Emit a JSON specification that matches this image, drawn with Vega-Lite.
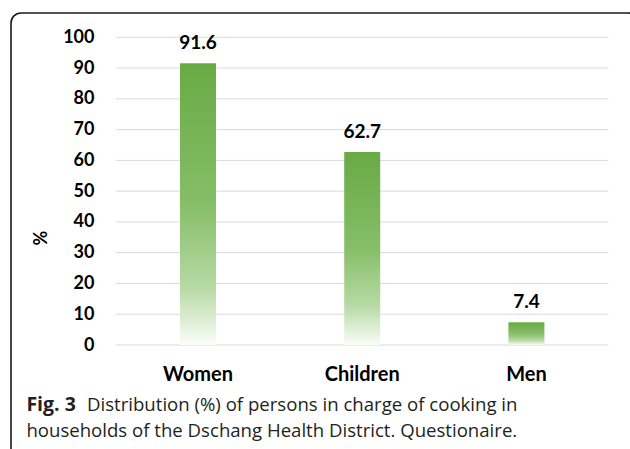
{
  "$schema": "https://vega.github.io/schema/vega-lite/v6.json",
  "width": 627,
  "height": 449,
  "autosize": "none",
  "padding": {"left": 11, "top": 13, "right": -8, "bottom": -13},
  "background": "white",
  "config": {
    "view": {"stroke": "#1a1a1a", "strokeWidth": 1.6, "cornerRadius": 10},
    "font": "Lato"
  },
  "resolve": {"scale": {"x": "independent"}},
  "layer": [
    {
      "data": {"values": [{"tick": 0}, {"tick": 10}, {"tick": 20}, {"tick": 30}, {"tick": 40}, {"tick": 50}, {"tick": 60}, {"tick": 70}, {"tick": 80}, {"tick": 90}, {"tick": 100}]},
      "mark": {"type": "rule", "color": "#d9d9d9", "strokeWidth": 1},
      "encoding": {
        "y": {"field": "tick", "type": "quantitative", "scale": {"domain": [-38.02, 107.9], "nice": false, "zero": false}},
        "x": {"datum": 0, "type": "quantitative", "scale": {"domain": [-21.33, 106.03], "nice": false, "zero": false}, "axis": null},
        "x2": {"datum": 100}
      }
    },
    {
      "data": {"values": [{"who": "Women", "pct": 91.6}, {"who": "Children", "pct": 62.7}, {"who": "Men", "pct": 7.4}]},
      "layer": [
        {
          "mark": {
            "type": "bar",
            "color": {
              "gradient": "linear", "x1": 0, "y1": 0, "x2": 0, "y2": 1,
              "stops": [
                {"offset": 0, "color": "#69aa44"},
                {"offset": 0.5, "color": "#86be68"},
                {"offset": 0.8, "color": "#b8daa6"},
                {"offset": 1, "color": "#fbfdf9"}
              ]
            }
          },
          "encoding": {
            "x": {
              "field": "who", "type": "nominal", "sort": null,
              "scale": {"paddingInner": 0.7808, "paddingOuter": 0.7996, "align": 0.6436},
              "axis": {"orient": "bottom", "offset": -82, "labelAngle": 0, "labelBaseline": "alphabetic", "labelPadding": 0, "ticks": false, "domain": false, "title": null, "labelFontSize": 20, "labelFontWeight": "bold", "labelColor": "#000000", "labelFont": "Lato"}
            },
            "y": {
              "field": "pct", "type": "quantitative",
              "scale": {"domain": [-38.02, 107.9], "nice": false, "zero": false},
              "axis": {"values": [0, 10, 20, 30, 40, 50, 60, 70, 80, 90, 100], "offset": -83, "ticks": false, "domain": false, "grid": false, "labelPadding": 0, "labelFontSize": 18, "labelFontWeight": "bold", "labelColor": "#000000", "labelFont": "Lato", "title": "%", "titleFontSize": 18, "titleFontWeight": "bold", "titleColor": "#000000", "titleFont": "Lato", "titlePadding": 12}
            },
            "y2": {"datum": 0}
          }
        },
        {
          "mark": {"type": "text", "dy": -14, "baseline": "alphabetic", "fontSize": 19, "fontWeight": "bold", "color": "#000000", "font": "Lato"},
          "encoding": {
            "x": {"field": "who", "type": "nominal", "sort": null, "scale": {"paddingInner": 0.7808, "paddingOuter": 0.7996, "align": 0.6436}},
            "y": {"field": "pct", "type": "quantitative", "scale": {"domain": [-38.02, 107.9], "nice": false, "zero": false}},
            "text": {"field": "pct", "type": "quantitative", "format": ".1f"}
          }
        }
      ]
    },
    {
      "data": {"values": [{"t": "Fig. 3"}]},
      "mark": {"type": "text", "align": "left", "baseline": "alphabetic", "font": "Open Sans", "fontWeight": "bold", "fontSize": 19.5, "color": "#231f20"},
      "encoding": {
        "x": {"datum": -18.2, "type": "quantitative", "scale": {"domain": [-21.33, 106.03], "nice": false, "zero": false}, "axis": null},
        "y": {"datum": -21.45, "type": "quantitative", "scale": {"domain": [-38.02, 107.9], "nice": false, "zero": false}},
        "text": {"field": "t"}
      }
    },
    {
      "data": {"values": [{"t": "Distribution (%) of persons in charge of cooking in"}]},
      "mark": {"type": "text", "align": "left", "baseline": "alphabetic", "font": "Open Sans", "fontSize": 18.6, "color": "#231f20"},
      "encoding": {
        "x": {"datum": -5.89, "type": "quantitative", "scale": {"domain": [-21.33, 106.03], "nice": false, "zero": false}, "axis": null},
        "y": {"datum": -21.45, "type": "quantitative", "scale": {"domain": [-38.02, 107.9], "nice": false, "zero": false}},
        "text": {"field": "t"}
      }
    },
    {
      "data": {"values": [{"t": "households of the Dschang Health District. Questionaire."}]},
      "mark": {"type": "text", "align": "left", "baseline": "alphabetic", "font": "Open Sans", "fontSize": 18.6, "color": "#231f20"},
      "encoding": {
        "x": {"datum": -18.2, "type": "quantitative", "scale": {"domain": [-21.33, 106.03], "nice": false, "zero": false}, "axis": null},
        "y": {"datum": -29.9, "type": "quantitative", "scale": {"domain": [-38.02, 107.9], "nice": false, "zero": false}},
        "text": {"field": "t"}
      }
    }
  ]
}
